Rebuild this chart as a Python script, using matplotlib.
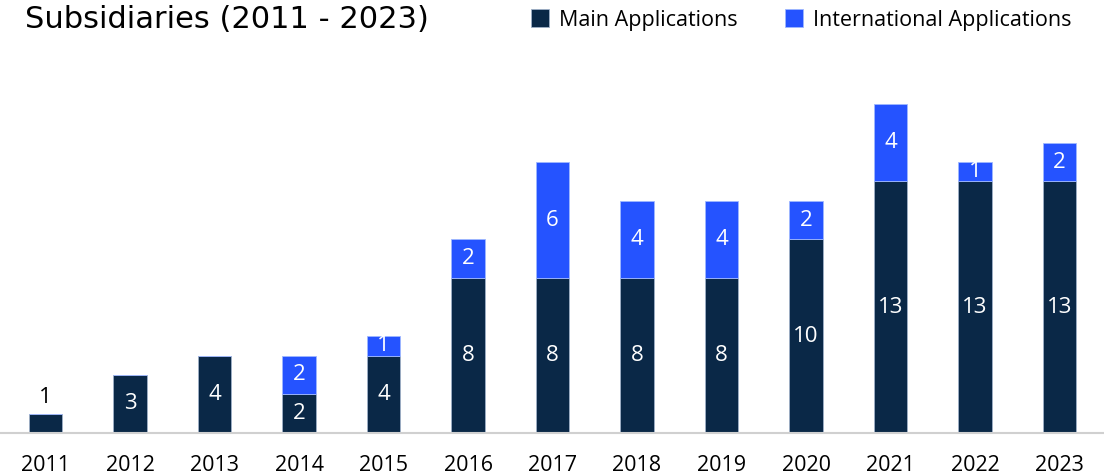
import matplotlib.pyplot as plt
import numpy as np

years = ["2011", "2012", "2013", "2014", "2015", "2016", "2017",
         "2018", "2019", "2020", "2021", "2022", "2023"]
main_apps = [1, 3, 4, 2, 4, 8, 8, 8, 8, 10, 13, 13, 13]
intl_apps = [0, 0, 0, 2, 1, 2, 6, 4, 4, 2, 4, 1, 2]

dark = "#0a2847"
blue = "#2553ff"

plt.rcParams['font.family'] = ['Open Sans', 'DejaVu Sans']

fig = plt.figure(figsize=(11.04, 4.76), dpi=100)
ax = fig.add_axes([0, 43 / 476, 1, 1 - 43 / 476 - 60 / 476])

x = np.arange(len(years))
main = np.array(main_apps)
intl = np.array(intl_apps)

b1 = ax.bar(x, main, width=0.4, color=dark, edgecolor="#9fb0c8", linewidth=0.6,
            label="Main Applications")
b2 = ax.bar(x, intl, width=0.4, bottom=main, color=blue, edgecolor="#9fb8ff",
            linewidth=0.6, label="International Applications")

for i in range(len(years)):
    if main[i] <= 1:
        ax.text(x[i], main[i] + 0.3, str(main[i]), ha="center", va="bottom",
                color="black", fontsize=16)
    else:
        ax.text(x[i], main[i] / 2, str(main[i]), ha="center", va="center",
                color="white", fontsize=16)
    if intl[i] > 0:
        ax.text(x[i], main[i] + intl[i] / 2, str(intl[i]), ha="center",
                va="center", color="white", fontsize=16)

ax.set_xlim(-45.5 / 84.5, (1104 - 45.5) / 84.5)
ax.set_ylim(0, 373 / 19.35)
ax.set_xticks(x)
ax.set_xticklabels(years, fontsize=15.5)
ax.tick_params(axis="x", length=0, pad=16)
ax.set_yticks([])
for s in ["top", "right", "left"]:
    ax.spines[s].set_visible(False)
ax.spines["bottom"].set_color("#d0d0d0")
ax.spines["bottom"].set_linewidth(1.5)

fig.text(25 / 1104, 1 - 20 / 476, "Subsidiaries (2011 - 2023)", fontsize=22,
         family="DejaVu Sans", va="center", ha="left")

fig.legend(handles=[b1, b2], loc="center right", bbox_to_anchor=(1080 / 1104, 1 - 20 / 476),
           ncol=2, frameon=False, fontsize=15.5, handlelength=0.85, handleheight=0.85,
           handletextpad=0.45, columnspacing=2.2, borderaxespad=0.0)

fig.savefig("out.png", dpi=100)
